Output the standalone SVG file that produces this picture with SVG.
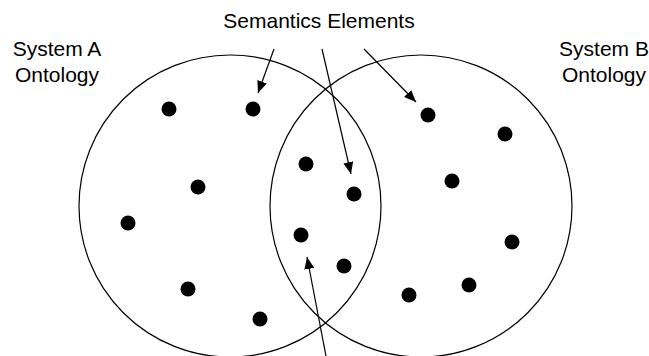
<svg xmlns="http://www.w3.org/2000/svg" width="649" height="356" viewBox="0 0 649 356">
<defs>
<style>
.lbl{font-family:"Liberation Sans",Arial,sans-serif;font-size:21px;fill:#000;text-anchor:middle}
.set{fill:none;stroke:#000;stroke-width:1.2}
.dot{fill:#000}
.conn{stroke:#000;stroke-width:1.2;fill:none;marker-end:url(#ah)}
</style>
<marker id="ah" viewBox="0 0 12 10" refX="12" refY="5" markerWidth="12" markerHeight="10" markerUnits="userSpaceOnUse" orient="auto">
<path d="M0,0 L12,5 L0,10 Z" fill="#000"/>
</marker>
</defs>
<rect width="649" height="356" fill="#fff"/>
<g id="systemA">
<circle class="set" cx="230" cy="206" r="151"/>
<text class="lbl" x="57" y="56">System A</text>
<text class="lbl" x="57" y="82">Ontology</text>
</g>
<g id="systemB">
<circle class="set" cx="421" cy="206" r="151"/>
<text class="lbl" x="604" y="56">System B</text>
<text class="lbl" x="604" y="82">Ontology</text>
</g>
<g id="semanticsLabel">
<text class="lbl" x="319" y="28">Semantics Elements</text>
</g>
<g id="elements">
<circle class="dot" cx="169" cy="109" r="7.5"/>
<circle class="dot" cx="253" cy="109" r="7.5"/>
<circle class="dot" cx="306" cy="164" r="7.5"/>
<circle class="dot" cx="198" cy="187" r="7.5"/>
<circle class="dot" cx="128" cy="223" r="7.5"/>
<circle class="dot" cx="301" cy="235" r="7.5"/>
<circle class="dot" cx="188" cy="289" r="7.5"/>
<circle class="dot" cx="260" cy="319" r="7.5"/>
<circle class="dot" cx="428" cy="115" r="7.5"/>
<circle class="dot" cx="505" cy="134" r="7.5"/>
<circle class="dot" cx="354" cy="194" r="7.5"/>
<circle class="dot" cx="452" cy="181" r="7.5"/>
<circle class="dot" cx="512" cy="242" r="7.5"/>
<circle class="dot" cx="344" cy="266" r="7.5"/>
<circle class="dot" cx="469" cy="285" r="7.5"/>
<circle class="dot" cx="409" cy="295" r="7.5"/>
</g>
<g id="connectors">
<line class="conn" x1="274" y1="49" x2="258" y2="93"/>
<line class="conn" x1="322" y1="49" x2="351" y2="174"/>
<line class="conn" x1="364" y1="49" x2="416" y2="102"/>
<line class="conn" x1="326" y1="356" x2="307" y2="257"/>
</g>
</svg>
